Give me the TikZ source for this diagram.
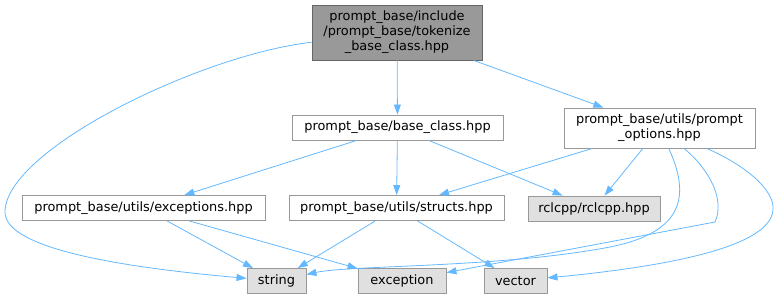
\documentclass[tikz,border=0pt]{standalone}
\usepackage{fontspec}
\setmainfont{DejaVu Sans}
\usepackage{tikz}
\usetikzlibrary{arrows.meta}
\definecolor{edgeblue}{HTML}{63B8FF}
\definecolor{boxline}{HTML}{999999}
\definecolor{topline}{HTML}{666666}
\definecolor{topfill}{HTML}{999999}
\definecolor{extfill}{HTML}{E0E0E0}
\tikzset{
  filebox/.style={draw=boxline, fill=white, line width=0.9pt, inner sep=0pt,
    align=center, font=\fontsize{12.9}{15}\selectfont},
  extbox/.style={filebox, fill=extfill},
  curbox/.style={filebox, draw=topline, fill=topfill},
  dep/.style={draw=edgeblue, line width=0.8pt,
    -{Triangle[length=10pt, width=7pt]}}
}

\begin{document}
\begin{tikzpicture}[x=1pt, y=-1pt]
  \useasboundingbox (0,0) rectangle (780,300);
  % Included file
  \node[curbox, minimum width=170pt, minimum height=55pt] (tokbase) at (397,32.5)
    {prompt\_base/include\\/prompt\_base/tokenize\\\_base\_class.hpp};
  % Direct includes
  \node[filebox, minimum width=211pt, minimum height=25pt] (baseclass) at (397.5,127.5)
    {prompt\_base/base\_class.hpp};
  \node[filebox, minimum width=191pt, minimum height=40pt] (options) at (659.5,128)
    {prompt\_base/utils/prompt\\\_options.hpp};
  % Second level
  \node[filebox, minimum width=243pt, minimum height=25pt] (exceptions) at (143.5,208)
    {prompt\_base/utils/exceptions.hpp};
  \node[filebox, minimum width=215pt, minimum height=25pt] (structs) at (396.5,208)
    {prompt\_base/utils/structs.hpp};
  \node[extbox, minimum width=132pt, minimum height=25pt] (rclcpp) at (594,208.5)
    {rclcpp/rclcpp.hpp};
  % Standard headers
  \node[extbox, minimum width=59pt, minimum height=25pt] (string) at (276.5,281) {string};
  \node[extbox, minimum width=88pt, minimum height=25pt] (exception) at (402,281) {exception};
  \node[extbox, minimum width=63pt, minimum height=25pt] (vector) at (515.5,281) {vector};
  % Straight dependencies
  \foreach \a/\b in {tokbase/baseclass, tokbase/options, baseclass/exceptions,
      baseclass/structs, baseclass/rclcpp, options/structs, options/rclcpp,
      exceptions/string, exceptions/exception, structs/string, structs/vector}
    \draw[dep] (\a) -- (\b);
  % Curved dependencies
  \draw[dep] (tokbase) .. controls (200,55) and (5,150) .. (5,212)
    .. controls (5,250) and (130,268) .. (string);
  \draw[dep] (options) .. controls (690,195) and (685,232) .. (610,247)
    .. controls (500,268) and (350,265) .. (string);
  \draw[dep] (options) .. controls (710,170) and (725,200) .. (715,222) -- (exception);
  \draw[dep] (options) .. controls (745,165) and (775,190) .. (773,210)
    .. controls (770,250) and (650,268) .. (vector);
\end{tikzpicture}
\end{document}
